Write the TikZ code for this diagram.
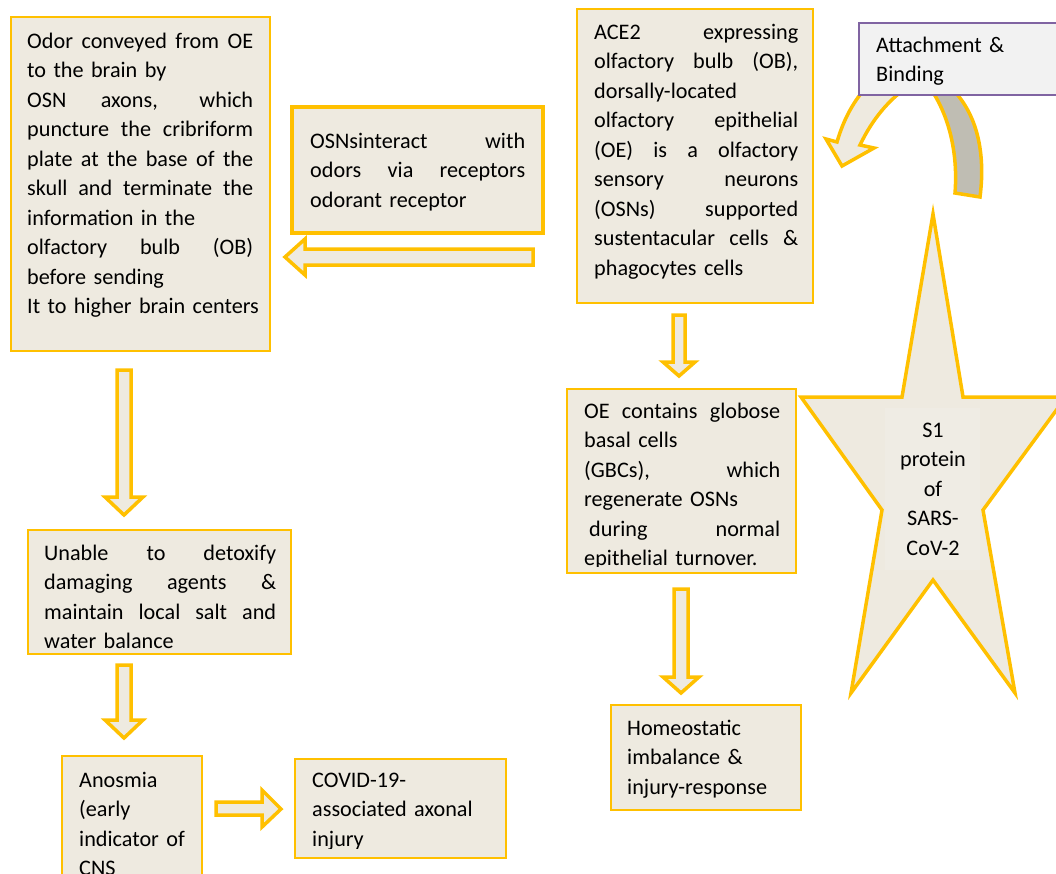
\documentclass[tikz,border=0pt]{standalone}
\usepackage{fontspec}
\setmainfont{Carlito}
\definecolor{gold}{HTML}{FFC000}
\definecolor{paper}{HTML}{EEEAE0}
\definecolor{mauve}{HTML}{8064A2}
\definecolor{lightgrey}{HTML}{F2F2F2}
\definecolor{backgrey}{HTML}{BFBDB3}
\hyphenpenalty=10000
% justified line of a text box
\newcommand\jl[1]{{\spaceskip=0.23em plus 1fil\makebox[\jw][s]{#1}}}

\begin{document}
\begin{tikzpicture}[x=1pt, y=-1pt,
    panel/.style = {draw=gold, fill=paper, line width=1.5pt},
    txt/.style = {anchor=base west, inner sep=0pt, align=left, text width=240pt,
        font=\fontsize{22.2}{29.5}\selectfont},
    jtxt/.style = {txt, text width=#1, execute at begin node={\def\jw{#1}}},
    blockarrow/.style = {draw=gold, fill=paper, line width=3.5pt, line join=miter}]
\useasboundingbox (0,0) rectangle (1056,873);

% curved arrow behind the attachment box
\filldraw[fill=backgrey, draw=gold, line width=3.5pt] (928,85) .. controls (950,115) and (958,155) .. (955,193)
    -- (980,197) .. controls (986,150) and (976,110) .. (948,85) -- cycle;
\filldraw[blockarrow] (826,139) -- (842,166) -- (874,148) -- (860,145) .. controls (872,120) and (888,100) .. (910,85)
    -- (868,85) .. controls (850,105) and (842,125) .. (837,142) -- cycle;
\filldraw[draw=mauve, fill=lightgrey, line width=1.2pt] (859,23) rectangle (1075,95);
\node[txt, text width=170pt] (attach) at (876,52) {Attachment \&\\Binding};

% star
\filldraw[blockarrow] (933,214) -- (963,397) -- (1066,397) -- (983,510) -- (1015,693) -- (933,580)
    -- (851,693) -- (882,510) -- (801,397) -- (902,397) -- cycle;
\fill[lightgrey!20!paper] (885,408) rectangle (980,570);
\node[txt, anchor=base, align=center, text width=95pt] (spike) at (933,437) {S1\\protein\\of\\SARS-\\CoV-2};

% left column
\filldraw[panel] (11,17) rectangle (270,351);
\node[jtxt=226pt] (odor) at (27,48) {\jl{Odor conveyed from OE}\\to the brain by\\\jl{OSN axons, which}\\
    \jl{puncture the cribriform}\\\jl{plate at the base of the}\\\jl{skull and terminate the}\\information in the\\
    \jl{olfactory bulb (OB)}\\before sending\\\mbox{It to higher brain centers}};

\filldraw[panel, line width=3.5pt] (292,107) rectangle (543,233);
\node[jtxt=215pt] (osn) at (310,148) {\jl{OSNsinteract with}\\\jl{odors via receptors}\\odorant receptor};

\filldraw[panel] (28,530) rectangle (291,654);
\begin{scope}
  \clip (28,530) rectangle (291,649);
  \node[jtxt=232pt] (unable) at (44,560) {\jl{Unable to detoxify}\\\jl{damaging agents \&}\\
      \jl{maintain local salt and}\\water balance};
\end{scope}

\filldraw[panel] (62,756) rectangle (202,895);
\node[txt, text width=120pt] (anosmia) at (79,787) {Anosmia\\(early\\indicator of\\CNS};

\filldraw[panel] (295,759) rectangle (506,858);
\begin{scope}
  \clip (295,759) rectangle (506,848);
  \node[txt, text width=190pt] (covid) at (312,787) {COVID-19-\\associated axonal\\injury};
\end{scope}

% right column
\filldraw[panel] (577,9) rectangle (813,303);
\node[jtxt=204pt] (ace) at (594,39) {\jl{ACE2 expressing}\\\jl{olfactory bulb (OB),}\\dorsally-located\\
    \jl{olfactory epithelial}\\\jl{(OE) is a olfactory}\\\jl{sensory neurons}\\\jl{(OSNs) supported}\\
    \jl{sustentacular cells \&}\\phagocytes cells};

\filldraw[panel] (567,389) rectangle (796,573);
\begin{scope}
  \clip (567,389) rectangle (796,566);
  \node[jtxt=196pt] (oe) at (584,418) {\jl{OE contains globose}\\basal cells\\\jl{(GBCs), which}\\
      regenerate OSNs\\\jl{\kern5pt during normal}\\epithelial turnover.};
\end{scope}

\filldraw[panel] (611,705) rectangle (801,810);
\node[txt, text width=170pt] (homeo) at (627,735) {Homeostatic\\imbalance \&\\injury-response};

% block arrows
\foreach \cx/\ya/\yb/\yc/\sw/\hw in {124/370/497/515/7/19, 124/665/720/738/7/19,
    679/315/362/376/6/16, 681/589/677/693/7/18}
  \filldraw[blockarrow] (\cx-\sw,\ya) -- (\cx+\sw,\ya) -- (\cx+\sw,\yb) -- (\cx+\hw,\yb) -- (\cx,\yc)
      -- (\cx-\hw,\yb) -- (\cx-\sw,\yb) -- cycle;
\filldraw[blockarrow] (533,249) -- (305,249) -- (305,239) -- (285,257) -- (305,275) -- (305,265) -- (533,265) -- cycle;
\filldraw[blockarrow] (216,802) -- (262,802) -- (262,790) -- (281,809) -- (262,827) -- (262,815) -- (216,815) -- cycle;
\end{tikzpicture}
\end{document}
